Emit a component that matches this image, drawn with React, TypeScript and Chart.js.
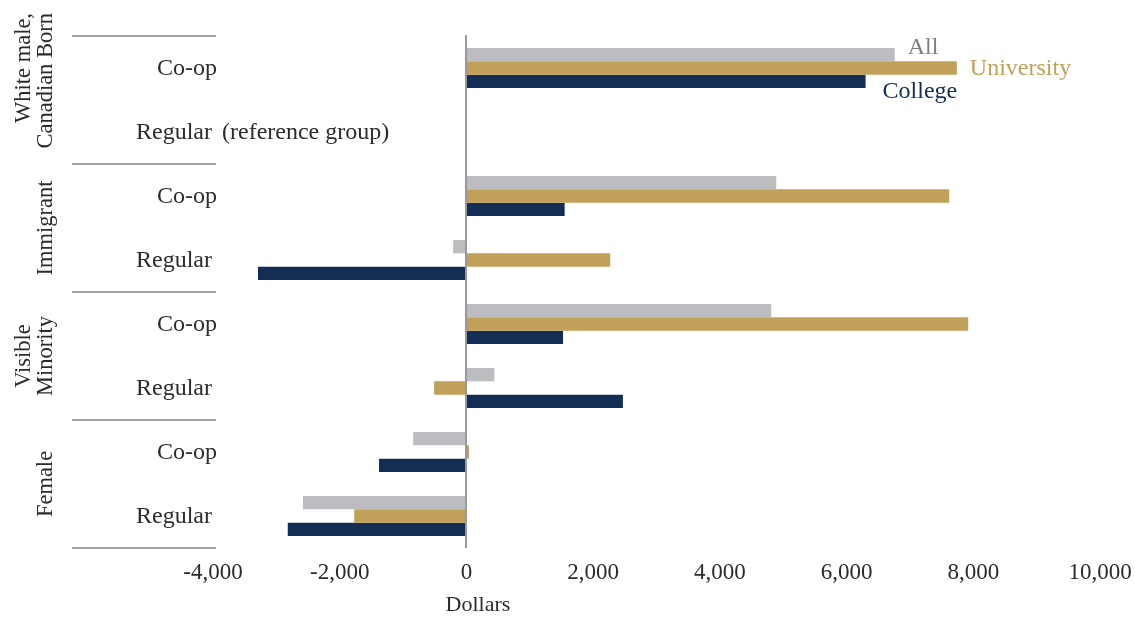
import React, { useEffect, useRef } from "react";
import { Chart, registerables } from "chart.js";

Chart.register(...registerables);

const rowLabels = ["Co-op", "Regular", "Co-op", "Regular", "Co-op", "Regular", "Co-op", "Regular"];
const groupLabels = [["White male,", "Canadian Born"], ["Immigrant"], ["Visible", "Minority"], ["Female"]];
const allValues = [6760, null, 4890, -210, 4810, 440, -840, -2580];
const universityValues = [7740, null, 7620, 2270, 7920, -510, 40, -1770];
const collegeValues = [6300, null, 1550, -3290, 1525, 2470, -1380, -2820];
const xTicks = [-4000, -2000, 0, 2000, 4000, 6000, 8000, 10000];
const seriesNames = ["All", "University", "College"];
const colors = ["#BCBDC1", "#C1A15A", "#132D55"];
const labelColors = ["#7f7f7f", "#C1A15A", "#132D55"];
const FAMILY = "'Liberation Serif', 'Times New Roman', serif";

const decorPlugin = {
  id: "decor",
  afterDatasetsDraw(chart: any) {
    const ctx = chart.ctx;
    const x = chart.scales.x;
    const y = chart.scales.y;
    const area = chart.chartArea;
    ctx.save();
    // zero line
    const zx = Math.round(x.getPixelForValue(0));
    ctx.strokeStyle = "#999999";
    ctx.lineWidth = 2;
    ctx.beginPath();
    ctx.moveTo(zx, area.top - 1);
    ctx.lineTo(zx, area.bottom);
    ctx.stroke();

    // separators
    const bounds: number[] = [area.top];
    for (let g = 1; g < groupLabels.length; g++) {
      const i = g * 2;
      bounds.push((y.getPixelForValue(i - 1) + y.getPixelForValue(i)) / 2);
    }
    bounds.push(area.bottom);
    ctx.strokeStyle = "#a3a3a3";
    ctx.lineWidth = 2;
    bounds.forEach((b) => {
      const yy = Math.round(b);
      ctx.beginPath();
      ctx.moveTo(72, yy);
      ctx.lineTo(area.left + 3, yy);
      ctx.stroke();
    });

    ctx.font = "24px " + FAMILY;
    ctx.fillStyle = "#2b2b2b";
    ctx.textBaseline = "alphabetic";
    // row labels
    rowLabels.forEach((lab, i) => {
      const py = y.getPixelForValue(i) + 7;
      ctx.textAlign = "right";
      ctx.fillText(lab, lab === "Regular" ? area.left - 1 : area.left + 4, py);
      if (i === 1) {
        ctx.textAlign = "left";
        ctx.fillText("(reference group)", area.left + 9, py);
      }
    });

    // group labels (rotated)
    ctx.font = "22.5px " + FAMILY;
    groupLabels.forEach((lines, g) => {
      const cy = (bounds[g] + bounds[g + 1]) / 2;
      lines.forEach((line, li) => {
        const bx = 52 - (lines.length - 1 - li) * 22;
        ctx.save();
        ctx.translate(bx, g === 0 ? 13 : cy);
        ctx.rotate(-Math.PI / 2);
        ctx.textAlign = g === 0 ? "right" : "center";
        ctx.textBaseline = "alphabetic";
        ctx.fillText(line, 0, 0);
        ctx.restore();
      });
    });

    // series labels next to first bars
    ctx.font = "24px " + FAMILY;
    const offsets = [
      { dx: 13, dy: -1 },
      { dx: 13, dy: 7 },
      { dx: 17, dy: 17 },
    ];
    seriesNames.forEach((name, d) => {
      const bar = chart.getDatasetMeta(d).data[0];
      ctx.fillStyle = labelColors[d];
      ctx.textAlign = "left";
      ctx.fillText(name, bar.x + offsets[d].dx, bar.y + offsets[d].dy);
    });

    // axis title
    ctx.font = "22px " + FAMILY;
    ctx.fillStyle = "#2b2b2b";
    ctx.textAlign = "center";
    ctx.fillText("Dollars", zx + 12, 611);
    ctx.restore();
  },
};

export default function App() {
  const ref = useRef<HTMLCanvasElement>(null);
  useEffect(() => {
    if (!ref.current) return;
    const data = [allValues, universityValues, collegeValues];
    const chart = new Chart(ref.current, {
      type: "bar",
      data: {
        labels: rowLabels.map((l, i) => l + "#" + i),
        datasets: seriesNames.map((name, d) => ({
          label: name,
          data: data[d],
          backgroundColor: colors[d],
          borderWidth: 0,
          categoryPercentage: 0.625,
          barPercentage: 1,
        })),
      },
      options: {
        indexAxis: "y",
        animation: false,
        responsive: false,
        layout: { padding: { left: 213, right: 35, top: 36, bottom: 0 } },
        plugins: { legend: { display: false }, tooltip: { enabled: false } },
        scales: {
          x: {
            min: -4000,
            max: 10000,
            afterBuildTicks: (s: any) => {
              s.ticks = xTicks.map((v) => ({ value: v }));
            },
            afterFit: (s: any) => {
              s.height = 70;
              s.paddingLeft = 0;
              s.paddingRight = 0;
            },
            grid: { display: false, drawTicks: false },
            border: { display: false },
            ticks: {
              padding: 11,
              color: "#2b2b2b",
              font: { family: FAMILY, size: 23 },
              callback: (v: any) => Number(v).toLocaleString("en-US"),
            },
          },
          y: {
            display: false,
          },
        },
      },
      plugins: [decorPlugin],
    });
    return () => chart.destroy();
  }, []);
  return (
    <div style={{ position: "fixed", left: 0, top: 0, width: 1135, height: 618, background: "#fff" }}>
      <canvas ref={ref} width={1135} height={618} />
    </div>
  );
}
